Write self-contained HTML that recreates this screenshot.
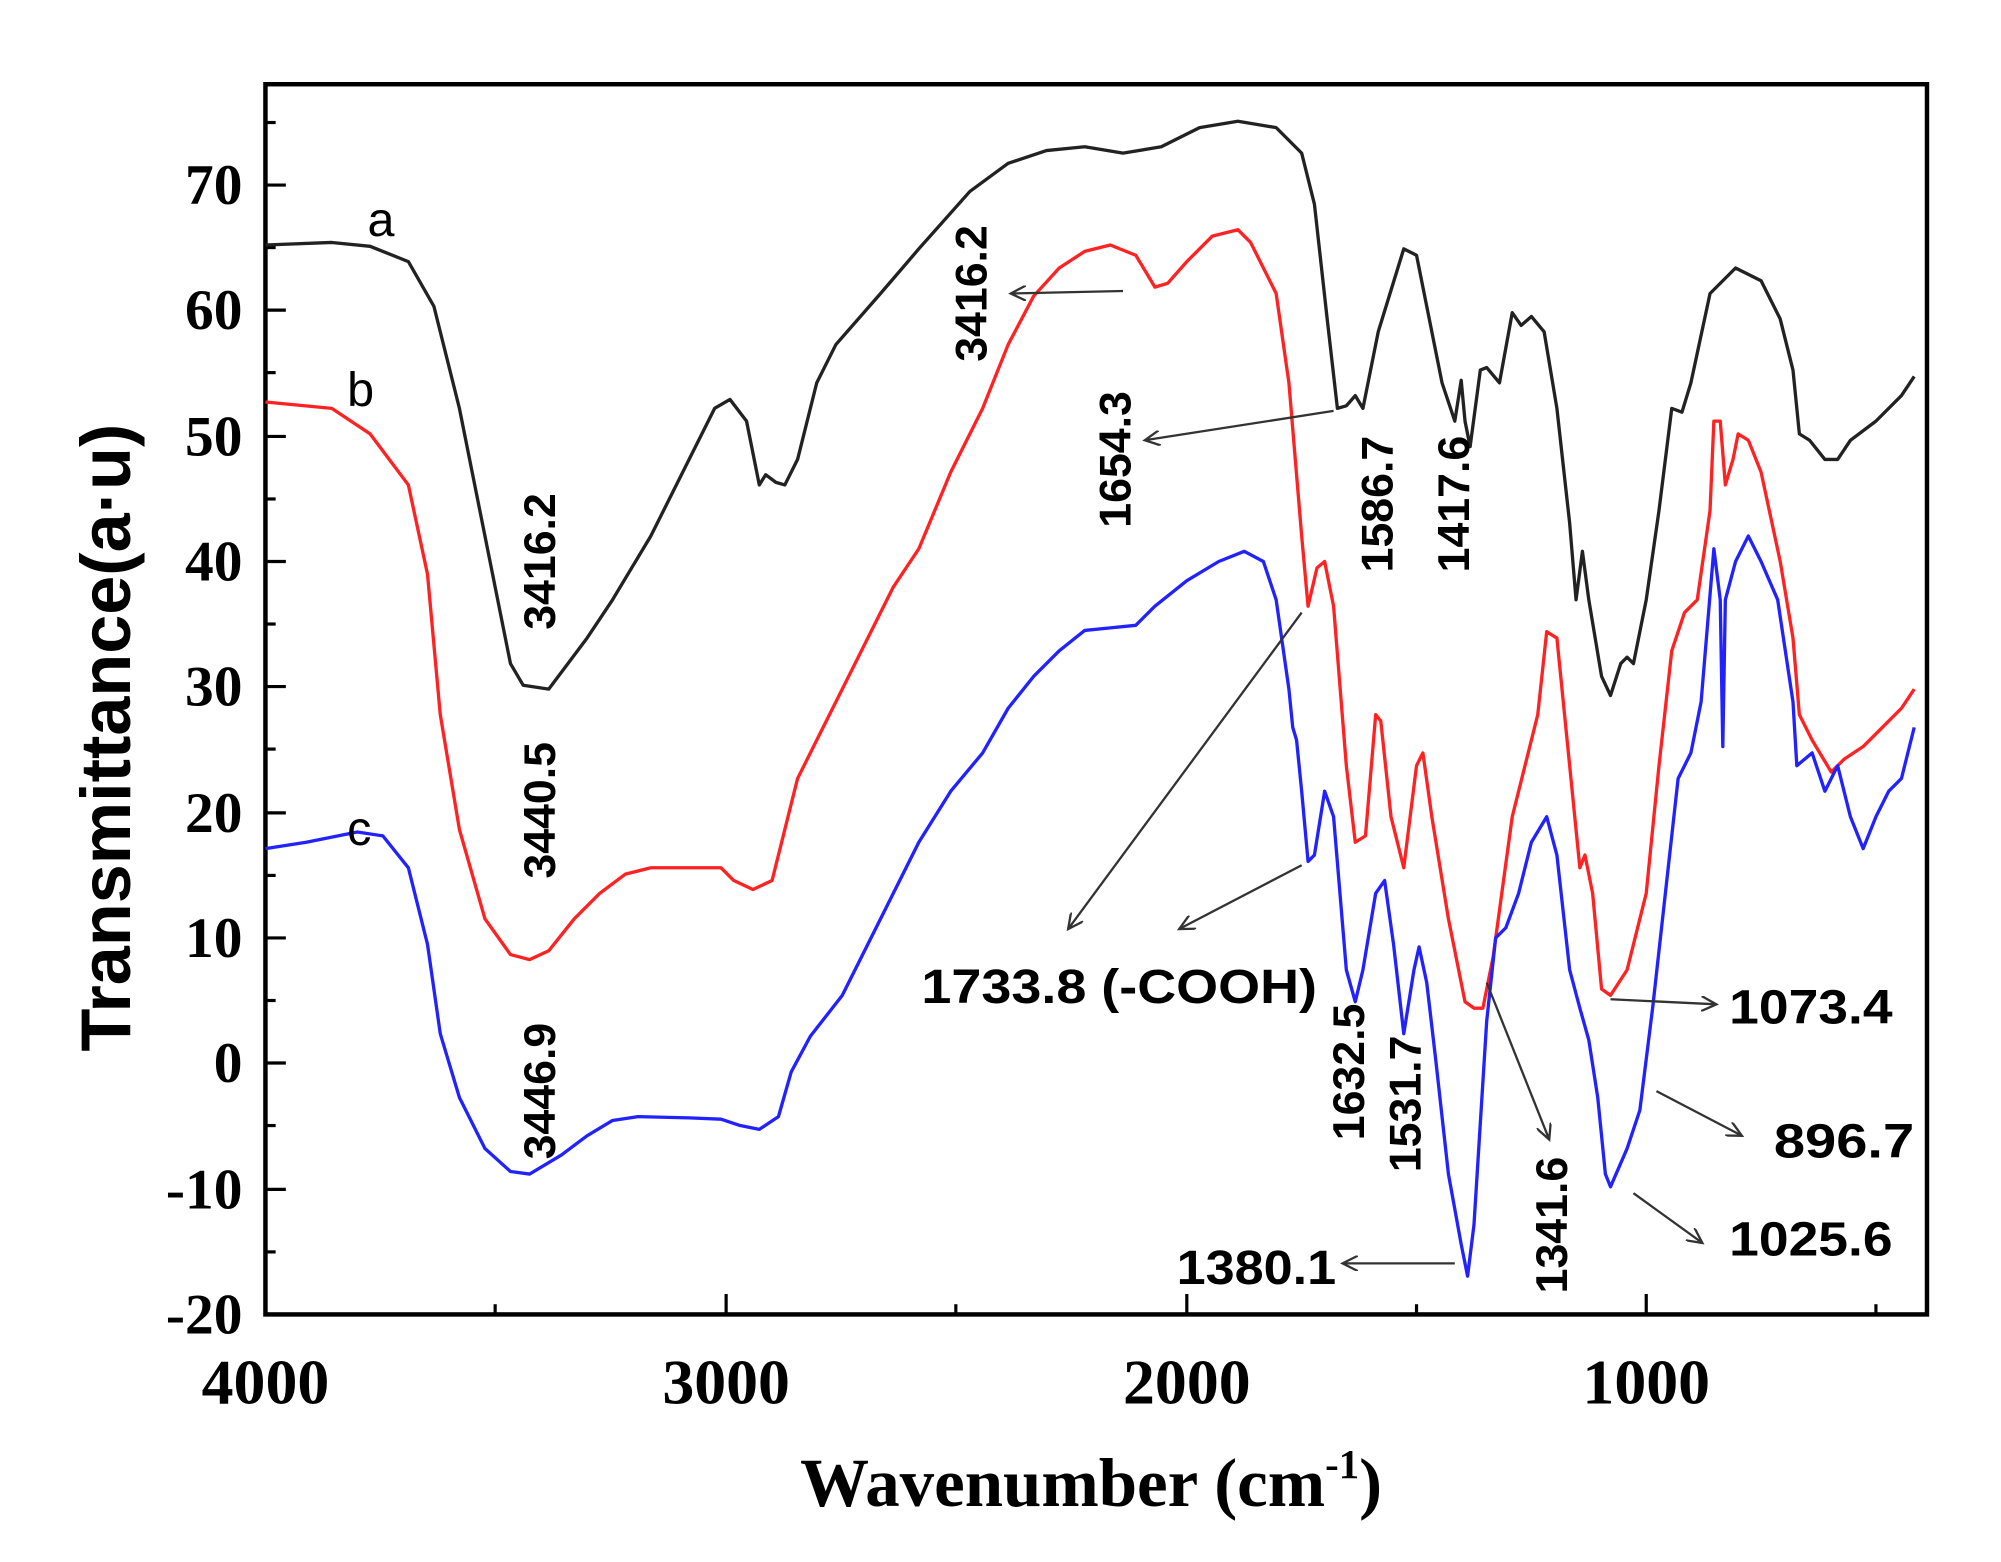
<!DOCTYPE html>
<html><head><style>html,body{margin:0;padding:0;background:#fff}svg{display:block}</style></head>
<body>
<svg width="2001" height="1562" viewBox="0 0 1568 1224" preserveAspectRatio="none" xmlns="http://www.w3.org/2000/svg">
<rect x="0" y="0" width="1568" height="1224" fill="#fff"/>
<rect x="208" y="66" width="1302" height="964" fill="none" stroke="#000" stroke-width="3.5"/>
<g stroke="#000" stroke-width="2.5">
<line x1="208" y1="145" x2="224" y2="145"/><line x1="208" y1="243" x2="224" y2="243"/><line x1="208" y1="342" x2="224" y2="342"/><line x1="208" y1="440" x2="224" y2="440"/><line x1="208" y1="538" x2="224" y2="538"/><line x1="208" y1="637" x2="224" y2="637"/><line x1="208" y1="735" x2="224" y2="735"/><line x1="208" y1="833" x2="224" y2="833"/><line x1="208" y1="932" x2="224" y2="932"/>
<line x1="208" y1="96" x2="216" y2="96"/><line x1="208" y1="194" x2="216" y2="194"/><line x1="208" y1="292" x2="216" y2="292"/><line x1="208" y1="391" x2="216" y2="391"/><line x1="208" y1="489" x2="216" y2="489"/><line x1="208" y1="587" x2="216" y2="587"/><line x1="208" y1="686" x2="216" y2="686"/><line x1="208" y1="784" x2="216" y2="784"/><line x1="208" y1="882" x2="216" y2="882"/><line x1="208" y1="981" x2="216" y2="981"/>
<line x1="569" y1="1030" x2="569" y2="1014"/><line x1="930" y1="1030" x2="930" y2="1014"/><line x1="1290" y1="1030" x2="1290" y2="1014"/>
<line x1="388" y1="1030" x2="388" y2="1022"/><line x1="749" y1="1030" x2="749" y2="1022"/><line x1="1110" y1="1030" x2="1110" y2="1022"/><line x1="1470" y1="1030" x2="1470" y2="1022"/>
</g>
<g font-family="Liberation Serif, serif" font-weight="bold" font-size="45" text-anchor="end">
<text x="190" y="160">70</text><text x="190" y="258">60</text><text x="190" y="357">50</text><text x="190" y="455">40</text><text x="190" y="553">30</text><text x="190" y="652">20</text><text x="190" y="750">10</text><text x="190" y="848">0</text><text x="190" y="947">-10</text><text x="190" y="1045">-20</text>
</g>
<g font-family="Liberation Serif, serif" font-weight="bold" font-size="50" text-anchor="middle">
<text x="208" y="1100">4000</text><text x="569" y="1100">3000</text><text x="930" y="1100">2000</text><text x="1290" y="1100">1000</text>
</g>
<text x="855" y="1180" font-family="Liberation Serif, serif" font-weight="bold" font-size="54" text-anchor="middle">Wavenumber (cm<tspan font-size="32" dy="-22">-1</tspan><tspan dy="22">)</tspan></text>
<text transform="translate(102,578) rotate(-90)" font-family="Liberation Sans, sans-serif" font-weight="bold" font-size="55" text-anchor="middle">Transmittance(a·u)</text>
<g fill="none" stroke-width="2.6" stroke-linejoin="round">
<polyline stroke="#222" points="208,192 260,190 290,193 320,205 340,240 360,320 380,420 400,520 410,537 430,540 445,520 460,500 480,470 510,420 540,360 560,320 572,313 585,330 595,380 600,372 608,378 615,380 625,360 640,300 655,270 690,230 720,195 760,150 790,128 820,118 850,115 880,120 910,115 940,100 970,95 1000,100 1020,120 1030,160 1040,250 1048,320 1055,318 1062,310 1068,320 1080,260 1100,195 1110,200 1120,250 1130,300 1140,330 1145,298 1148,330 1152,350 1160,290 1165,288 1175,300 1185,245 1192,255 1200,248 1210,260 1220,320 1230,410 1235,470 1240,432 1245,470 1255,530 1262,545 1270,520 1275,515 1280,520 1290,470 1300,400 1310,320 1318,323 1325,300 1340,230 1360,210 1380,220 1395,250 1405,290 1410,340 1418,345 1430,360 1440,360 1450,345 1470,330 1490,310 1500,295"/>
<polyline stroke="#f22" points="208,315 260,320 290,340 320,380 335,450 345,560 360,650 380,720 400,748 415,752 430,745 450,720 470,700 490,685 510,680 540,680 565,680 575,690 590,697 605,690 615,650 625,610 640,580 670,520 700,460 720,430 745,370 770,320 790,270 810,232 830,210 850,197 870,192 890,200 905,225 915,222 930,205 950,185 970,180 980,190 1000,230 1010,300 1020,420 1025,475 1032,445 1038,440 1045,475 1055,600 1062,660 1070,655 1078,560 1082,565 1090,640 1100,680 1110,600 1115,590 1122,640 1135,720 1148,785 1155,790 1162,790 1170,750 1185,640 1195,600 1205,560 1212,495 1220,500 1230,600 1238,680 1242,670 1248,700 1255,775 1262,780 1275,760 1290,700 1300,600 1310,510 1320,480 1330,470 1340,400 1343,330 1348,330 1352,380 1358,360 1362,340 1370,345 1380,370 1395,440 1405,500 1410,560 1420,580 1435,605 1445,595 1460,585 1475,570 1490,555 1500,540"/>
<polyline stroke="#22f" points="208,665 240,660 280,652 300,655 320,680 335,740 345,810 360,860 380,900 400,918 415,920 440,905 460,890 480,878 500,875 540,876 565,877 580,882 595,885 610,875 620,840 635,812 660,780 680,740 700,700 720,660 745,620 770,590 790,555 810,530 830,510 850,494 870,492 890,490 905,475 930,455 955,440 975,432 990,440 1000,470 1010,540 1013,570 1016,580 1020,620 1025,675 1030,670 1038,620 1045,640 1055,760 1062,785 1068,760 1078,700 1085,690 1092,740 1100,810 1108,760 1112,742 1118,770 1125,830 1135,920 1145,975 1150,1000 1155,960 1160,880 1165,800 1172,735 1180,727 1190,700 1200,660 1212,640 1220,670 1230,760 1238,790 1245,815 1252,860 1258,920 1262,930 1275,900 1285,870 1295,790 1305,700 1315,610 1325,590 1333,550 1343,430 1348,470 1350,585 1352,470 1360,440 1370,420 1380,440 1393,470 1405,550 1408,600 1420,590 1430,620 1440,600 1450,640 1460,665 1470,640 1480,620 1490,610 1500,570"/>
</g>
<g font-family="Liberation Sans, sans-serif" font-size="38">
<text x="288" y="185">a</text><text x="272" y="318">b</text><text x="272" y="662">c</text>
</g>
<g font-family="Liberation Sans, sans-serif" font-weight="bold" font-size="35" text-anchor="middle">
<text transform="translate(435,440) rotate(-90)">3416.2</text>
<text transform="translate(435,635) rotate(-90)">3440.5</text>
<text transform="translate(435,855) rotate(-90)">3446.9</text>
<text transform="translate(773,230) rotate(-90)">3416.2</text>
<text transform="translate(886,360) rotate(-90)">1654.3</text>
<text transform="translate(1091,395) rotate(-90)">1586.7</text>
<text transform="translate(1151,395) rotate(-90)">1417.6</text>
<text transform="translate(1069,840) rotate(-90)">1632.5</text>
<text transform="translate(1113,865) rotate(-90)">1531.7</text>
<text transform="translate(1228,960) rotate(-90)">1341.6</text>
</g>
<g font-family="Liberation Sans, sans-serif" font-weight="bold" font-size="38">
<text x="722" y="786" textLength="310" lengthAdjust="spacingAndGlyphs">1733.8 (-COOH)</text>
<text x="1355" y="802" textLength="128" lengthAdjust="spacingAndGlyphs">1073.4</text>
<text x="1390" y="907" textLength="110" lengthAdjust="spacingAndGlyphs">896.7</text>
<text x="1355" y="984" textLength="128" lengthAdjust="spacingAndGlyphs">1025.6</text>
<text x="922" y="1006" textLength="125" lengthAdjust="spacingAndGlyphs">1380.1</text>
</g>
<defs><marker id="ah" markerWidth="14" markerHeight="12" refX="12" refY="6" orient="auto" markerUnits="userSpaceOnUse"><path d="M0,0 L12,6 L0,12" fill="none" stroke="#333" stroke-width="1.8"/></marker></defs>
<g stroke="#333" stroke-width="1.8" marker-end="url(#ah)">
<line x1="880" y1="228" x2="792" y2="230"/>
<line x1="1045" y1="322" x2="897" y2="345"/>
<line x1="1020" y1="480" x2="837" y2="728"/>
<line x1="1020" y1="678" x2="924" y2="728"/>
<line x1="1140" y1="990" x2="1052" y2="990"/>
<line x1="1165" y1="770" x2="1214" y2="893"/>
<line x1="1262" y1="783" x2="1345" y2="787"/>
<line x1="1298" y1="855" x2="1365" y2="890"/>
<line x1="1280" y1="935" x2="1334" y2="974"/>
</g>
</svg>
</body></html>
